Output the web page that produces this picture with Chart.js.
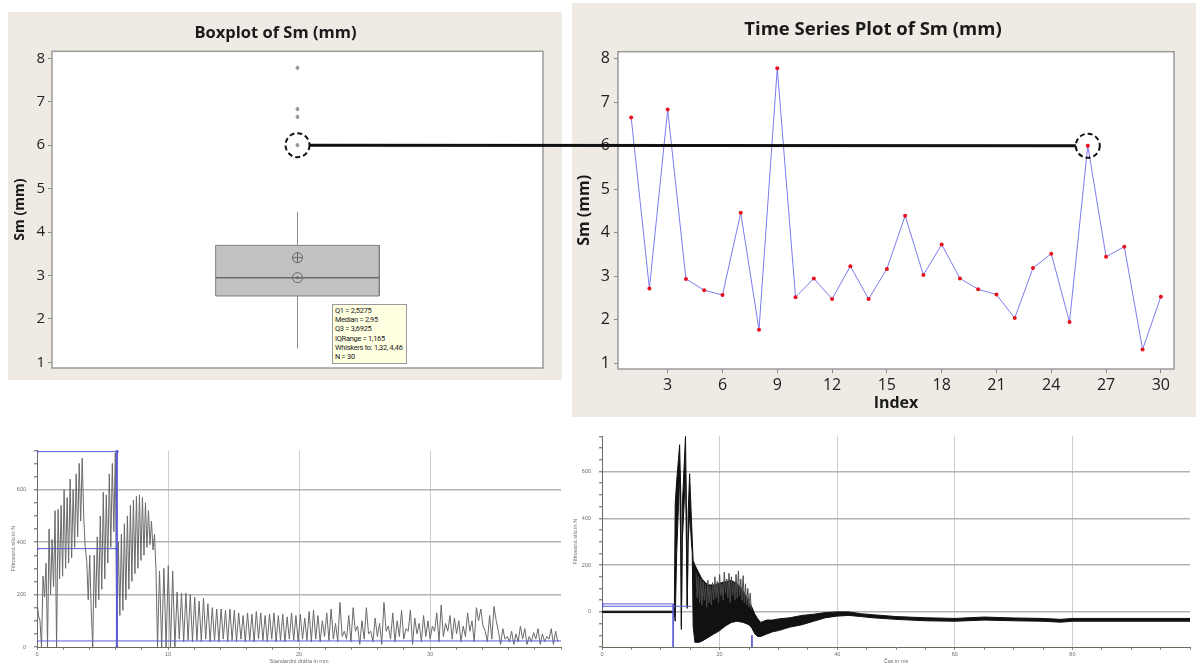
<!DOCTYPE html>
<html lang="cs">
<head>
<meta charset="utf-8">
<title>Sm (mm)</title>
<script src="https://cdn.jsdelivr.net/npm/chart.js@4.4.1/dist/chart.umd.min.js"></script>
<style>
  html, body { margin: 0; padding: 0; background: #fff; }
  body { width: 1196px; height: 667px; position: relative; overflow: hidden; font-family: 'Open Sans', sans-serif; }
  canvas { display: block; }
  .panel { position: absolute; background: #efebe4; }
  #box-panel { left: 8px; top: 12px; width: 554px; height: 368px; }
  #ts-panel { left: 572px; top: 3px; width: 624px; height: 414px; }
  .plot { position: absolute; top: 425px; height: 242px; filter: blur(0.45px); }
  #travel-plot { left: 0; width: 570px; }
  #time-plot { left: 572px; width: 624px; }
  #stats {
    position: absolute; left: 332px; top: 304px; width: 71px; height: 57px;
    background: #ffffe1; border: 1px solid #9a9a9a; padding: 1px 0 0 2px;
    font: 7.4px/9.2px Roboto, 'Liberation Sans', sans-serif; letter-spacing: -0.25px;
    color: #222; white-space: nowrap; overflow: hidden;
  }
  #overlay { position: absolute; left: 0; top: 0; pointer-events: none; }
</style>
</head>
<body>
<div class="panel" id="box-panel"><canvas id="box-chart" width="554" height="368"></canvas></div>
<div class="panel" id="ts-panel"><canvas id="ts-chart" width="624" height="414"></canvas></div>
<div id="stats"></div>
<div class="plot" id="travel-plot"><canvas id="travel-chart" width="570" height="242"></canvas></div>
<div class="plot" id="time-plot"><canvas id="time-chart" width="624" height="242"></canvas></div>
<canvas id="overlay" width="1196" height="667"></canvas>

<script>
// ---- Sm (mm), 30 measurements ----
const INDEX = [1, 2, 3, 4, 5, 6, 7, 8, 9, 10, 11, 12, 13, 14, 15,
               16, 17, 18, 19, 20, 21, 22, 23, 24, 25, 26, 27, 28, 29, 30];
const SM_VALUES = [6.65, 2.72, 6.83, 2.94, 2.68, 2.57, 4.46, 1.77, 7.78, 2.52,
                   2.95, 2.48, 3.23, 2.48, 3.17, 4.39, 3.03, 3.73, 2.95, 2.70,
                   2.58, 2.04, 3.19, 3.52, 1.95, 6.00, 3.45, 3.68, 1.32, 2.53];
const INDEX_TICKS = [3, 6, 9, 12, 15, 18, 21, 24, 27, 30];
const SM_TICKS = [1, 2, 3, 4, 5, 6, 7, 8];

// boxplot summary
const Q1 = 2.5275;
const MEDIAN = 2.95;
const Q3 = 3.6925;
const WHISKERS = [1.32, 4.46];
const OUTLIERS = [6.00, 6.65, 6.83, 7.78];
const HIGHLIGHT_INDEX = 26;

// ---- force vs. travel (mm / N) ----
// first part sampled every 0.115 mm, starting at 0
const DRAHA_A_KROK = 0.115;
const SILA_A = [175, 120, 100, 0, 270, 190, 320, 0, 450, 200,
                410, 230, 520, 0, 525, 260, 540, 270, 600, 300,
                570, 320, 640, 340, 600, 380, 660, 420, 700, 480,
                720, 500, 380, 330, 180, 350, 140, 0, 350, 150,
                420, 180, 500, 220, 590, 260, 580, 320, 660, 380,
                700, 440, 740, 0, 400, 120, 430, 140, 470, 180,
                500, 220, 540, 250, 560, 280, 575, 300, 580, 330,
                570, 350, 550, 380, 520, 390, 480, 370, 430, 290, 0];
// second part: one peak and one trough per tooth
const DRAHA_B_START = 9.35;
const DRAHA_B_KROK = 0.168;
const SPICKY_B = [290, 300, 310, 290,
                  210, 205, 205, 200,
                  190, 175, 185,
                  165, 150, 145, 145, 140, 145, 140, 130, 120,
                  130, 125, 135, 130, 120, 125, 130, 120, 125, 115, 130, 120, 125, 110, 135,
                  140, 120, 100, 130, 145, 90,
                  170, 60, 120, 150, 80, 100, 150, 60, 110, 90, 170, 80,
                  130, 100, 140, 70, 140, 110, 90, 120, 100, 80, 130,
                  160, 90, 120, 110, 100, 80, 130, 100,
                  150, 145, 60, 120, 155,
                  60, 70, 40, 60, 50, 80, 70, 40, 55, 70, 50, 40, 70, 60];
const DOLY_B = [0, 0, 0, 0,
                30, 20, 25, 20,
                25, 20, 30,
                20, 25, 20, 30, 20, 25, 20, 30, 20,
                25, 20, 30, 25, 20, 30, 20, 25, 20, 30, 25, 20, 30, 25, 20,
                30, 20, 40, 25, 30, 20,
                40, 30, 20, 60, 10, 30, 50, 20, 40, 10, 60, 30,
                20, 40, 30, 60, 10, 50, 20, 40, 30, 60, 20,
                40, 60, 30, 50, 20, 40, 60, 20,
                100, 80, 20, 30, 100,
                10, 30, 20, 10, 20, 30, 10, 20, 30, 10, 20, 30, 10, 20];
// evaluation markers
const DRAHA_MEZ = 6.1;
const SILA_MAX = 745;
const SILA_STRED = 375;
const SILA_PRAH = 23;

// ---- force vs. time (ms / N), envelope of the oscillation ----
const CAS_OBALKA = [0, 12.3, 12.45, 12.7, 13.0, 13.2, 13.4, 13.5, 13.65, 14.0,
                    14.2, 14.4, 14.5, 14.65, 14.9, 15.2, 15.35, 15.5, 15.8, 16.5,
                    17, 18, 19, 20, 21, 22, 23, 24, 25, 25.5,
                    26, 26.5, 27, 28, 29, 30, 32, 34, 36, 38,
                    40, 42, 44, 46, 50, 55, 60, 65, 70, 75,
                    78, 80, 90, 100];
const SILA_HORNI = [3, 3, 460, 560, 650, 714, 500, -60, 450, 640,
                    750, 350, 25, 420, 590, 400, 310, 220, 200, 165,
                    140, 115, 115, 122, 130, 134, 120, 90, 40, 20,
                    -10, -30, -45, -35, -35, -30, -25, -15, -10, -3,
                    0, 0, -8, -12, -20, -25, -28, -22, -26, -28,
                    -32, -28, -28, -28];
const SILA_DOLNI = [-3, -3, -40, 250, 450, 600, 250, -75, 300, 480,
                    600, 200, 15, 300, 420, 300, 250, -60, -130, -130,
                    -125, -110, -95, -80, -60, -45, -40, -45, -55, -70,
                    -95, -105, -105, -95, -85, -80, -65, -55, -40, -25,
                    -18, -15, -20, -25, -32, -38, -40, -35, -38, -40,
                    -44, -40, -40, -40];
// loose spikes above the dense band, every 0.2 ms from 16 ms
const ZUBY_START = 16;
const ZUBY_KROK = 0.2;
const ZUBY = [165, 60, 150, 40, 140, 30, 130, 50, 120, 20, 135, 40,
              110, 30, 125, 50, 150, 60, 130, 40, 160, 70, 120, 50,
              170, 80, 140, 60, 165, 40, 150, 70, 130, 50, 160, 60,
              175, 70, 140, 50, 155, 40, 120, 30, 100, 20, 80, 10];
const CAS_START = 12.1;
const CAS_KONEC = 25.5;
const SILA_HLADINY = [34, 24];

const FONT = "'Open Sans', 'Noto Sans', sans-serif";
const SMALL = "'Liberation Sans', Arial, sans-serif";
const BLUE = '#5b5bd6';

// white plot area with a grey frame
const plotFrame = {
  id: 'plotFrame',
  beforeDraw(chart) {
    const { ctx, chartArea: a } = chart;
    ctx.save();
    ctx.fillStyle = '#ffffff';
    ctx.fillRect(a.left, a.top, a.width, a.height);
    ctx.restore();
  },
  afterDraw(chart) {
    const { ctx, chartArea: a } = chart;
    ctx.save();
    ctx.strokeStyle = '#9b9b9b';
    ctx.lineWidth = 1.5;
    ctx.strokeRect(a.left, a.top, a.width, a.height);
    ctx.restore();
  }
};

const fmt = v => String(v).replace('.', ',');
const mean = SM_VALUES.reduce((s, v) => s + v, 0) / SM_VALUES.length;

document.getElementById('stats').innerHTML = [
  `Q1 = ${fmt(Q1)}`,
  `Median = ${fmt(MEDIAN)}`,
  `Q3 = ${fmt(Q3)}`,
  `IQRange = ${fmt((Q3 - Q1).toFixed(3))}`,
  `Whiskers to: ${fmt(WHISKERS[0])}, ${fmt(WHISKERS[1])}`,
  `N = ${SM_VALUES.length}`
].join('<br>');

function point(x, y) { return { x: x, y: y }; }

// ---------- Boxplot of Sm (mm) ----------
const BOX_X = 0.5;
const BOX_HALF = 0.1667;
const boxL = BOX_X - BOX_HALF;
const boxR = BOX_X + BOX_HALF;
const marker = { showLine: false, borderColor: '#666', borderWidth: 1, backgroundColor: 'rgba(0,0,0,0)' };

const boxChart = new Chart(document.getElementById('box-chart'), {
  type: 'line',
  data: {
    datasets: [
      Object.assign({ data: OUTLIERS.map(v => point(BOX_X, v)), pointStyle: 'star', pointRadius: 2.1 }, marker, { borderColor: '#8a8a8a' }),
      Object.assign({ data: [point(BOX_X, mean)], pointStyle: 'circle', pointRadius: 5 }, marker),
      Object.assign({ data: [point(BOX_X, mean)], pointStyle: 'cross', pointRadius: 5 }, marker),
      Object.assign({ data: [point(BOX_X, MEDIAN)], pointStyle: 'circle', pointRadius: 5 }, marker),
      Object.assign({ data: [point(BOX_X, MEDIAN)], pointStyle: 'circle', pointRadius: 1 }, marker, { backgroundColor: '#666' }),
      // median line
      { data: [point(boxL, MEDIAN), point(boxR, MEDIAN)], borderColor: '#6a6a6a', borderWidth: 1.5, pointRadius: 0 },
      // box outline
      { data: [point(boxL, Q1), point(boxL, Q3), point(boxR, Q3), point(boxR, Q1), point(boxL, Q1)],
        borderColor: '#7e7e7e', borderWidth: 1, pointRadius: 0 },
      // box fill between Q3 and Q1
      { data: [point(boxL, Q3), point(boxR, Q3)], fill: '+1', backgroundColor: '#c2c2c2', borderWidth: 0, pointRadius: 0 },
      { data: [point(boxL, Q1), point(boxR, Q1)], borderWidth: 0, pointRadius: 0 },
      // whiskers
      { data: [point(BOX_X, Q3), point(BOX_X, WHISKERS[1])], borderColor: '#8c8c8c', borderWidth: 1, pointRadius: 0 },
      { data: [point(BOX_X, WHISKERS[0]), point(BOX_X, Q1)], borderColor: '#8c8c8c', borderWidth: 1, pointRadius: 0 }
    ]
  },
  options: {
    responsive: false,
    animation: false,
    events: [],
    layout: { padding: { top: 0, right: 19, bottom: 11, left: 0 } },
    plugins: {
      legend: { display: false },
      tooltip: { enabled: false },
      title: {
        display: true, text: 'Boxplot of Sm (mm)', color: '#1a1a1a',
        font: { family: FONT, size: 16.5, weight: 'bold' }, padding: { top: 11, bottom: 8.5 }
      }
    },
    scales: {
      x: { type: 'linear', min: 0, max: 1, display: false },
      y: {
        type: 'linear', min: 0.87, max: 8.16,
        afterBuildTicks: s => { s.ticks = SM_TICKS.map(v => ({ value: v })); },
        afterFit: s => { s.width = 44; },
        grid: { drawOnChartArea: false, tickLength: 4, color: '#8a8a8a' },
        border: { display: false },
        ticks: { padding: 3, color: '#222', font: { family: FONT, size: 15 } },
        title: {
          display: true, text: 'Sm (mm)', color: '#1a1a1a',
          font: { family: FONT, size: 14, weight: 'bold' }, padding: { top: 3.6, bottom: 0 }
        }
      }
    }
  },
  plugins: [plotFrame]
});

// ---------- Time Series Plot of Sm (mm) ----------
const tsChart = new Chart(document.getElementById('ts-chart'), {
  type: 'line',
  data: {
    datasets: [{
      data: INDEX.map((x, i) => point(x, SM_VALUES[i])),
      borderColor: '#7b7bf0',
      borderWidth: 1,
      pointRadius: 2,
      pointBackgroundColor: '#e8101c',
      pointBorderWidth: 0
    }]
  },
  options: {
    responsive: false,
    animation: false,
    events: [],
    layout: { padding: { top: 0, right: 22, bottom: 4, left: 0 } },
    plugins: {
      legend: { display: false },
      tooltip: { enabled: false },
      title: {
        display: true, text: 'Time Series Plot of Sm (mm)', color: '#1a1a1a',
        font: { family: FONT, size: 18.5, weight: 'bold' }, padding: { top: 16, bottom: 10.5 }
      }
    },
    scales: {
      x: {
        type: 'linear', min: 0.28, max: 30.72,
        afterBuildTicks: s => { s.ticks = INDEX_TICKS.map(v => ({ value: v })); },
        afterFit: s => { s.height = 44; },
        grid: { drawOnChartArea: false, tickLength: 4, color: '#8a8a8a' },
        border: { display: false },
        ticks: { padding: 2.4, color: '#222', maxRotation: 0, font: { family: FONT, size: 16 } },
        title: {
          display: true, text: 'Index', color: '#1a1a1a',
          font: { family: FONT, size: 16, weight: 'bold' }, padding: { top: 0, bottom: 0.4 }
        }
      },
      y: {
        type: 'linear', min: 0.87, max: 8.16,
        afterBuildTicks: s => { s.ticks = SM_TICKS.map(v => ({ value: v })); },
        afterFit: s => { s.width = 46; },
        grid: { drawOnChartArea: false, tickLength: 4, color: '#8a8a8a' },
        border: { display: false },
        ticks: { padding: 4, color: '#222', font: { family: FONT, size: 16 } },
        title: {
          display: true, text: 'Sm (mm)', color: '#1a1a1a',
          font: { family: FONT, size: 16, weight: 'bold' }, padding: { top: 2.4, bottom: 0 }
        }
      }
    }
  },
  plugins: [plotFrame]
});

// ---------- shared axis setup for the two measurement plots ----------
function measureAxes(cfg) {
  const labelX = v => v % cfg.xLabelStep === 0 && v < cfg.xMax;
  const majorY = v => v % 200 === 0;
  return {
    x: {
      type: 'linear', min: cfg.xMin, max: cfg.xMax,
      afterFit: s => { s.height = 20; },
      ticks: {
        stepSize: cfg.xStep, autoSkip: false, maxRotation: 0, padding: 1, color: '#6f6f6f',
        font: { family: SMALL, size: 5.5 }, callback: v => (labelX(v) ? v : '')
      },
      grid: {
        color: c => (c.tick && labelX(c.tick.value) && c.tick.value > 0 ? '#cdcdcd' : 'rgba(0,0,0,0)'),
        tickColor: '#8a8a8a', tickLength: 3
      },
      border: { color: '#6b6b5e', width: 1 },
      title: {
        display: true, text: cfg.xTitle, color: '#6f6f6f',
        font: { family: SMALL, size: 5.5 }, padding: { top: 0, bottom: 2.5 }
      }
    },
    y: {
      type: 'linear', min: cfg.yMin, max: cfg.yMax,
      afterFit: s => { s.width = cfg.yWidth; },
      ticks: {
        stepSize: 50, autoSkip: false, padding: 8, color: '#6f6f6f',
        font: { family: SMALL, size: 5.5 }, callback: v => (majorY(v) ? v : '')
      },
      grid: {
        color: c => (c.tick && majorY(c.tick.value) && (cfg.zeroGrid || c.tick.value > 0) ? '#b3b3b3' : 'rgba(0,0,0,0)'),
        lineWidth: 1.4, tickColor: '#8a8a8a', tickLength: 3
      },
      border: { color: '#6b6b5e', width: 1 },
      title: {
        display: true, text: 'Filtrovaná síla in N', color: '#6f6f6f',
        font: { family: SMALL, size: 5.5 }, padding: { top: cfg.yTitlePad, bottom: 0 }
      }
    }
  };
}

const quiet = { legend: { display: false }, tooltip: { enabled: false } };

// ---------- force over standard travel ----------
const travelSignal = [];
SILA_A.forEach((v, i) => travelSignal.push(point(i * DRAHA_A_KROK, v)));
SPICKY_B.forEach((v, i) => {
  travelSignal.push(point(DRAHA_B_START + 2 * i * DRAHA_B_KROK, v));
  travelSignal.push(point(DRAHA_B_START + (2 * i + 1) * DRAHA_B_KROK, DOLY_B[i]));
});

const blueLine = (data, width, radius) => ({
  data: data, borderColor: BLUE, borderWidth: width, pointRadius: radius,
  pointBackgroundColor: BLUE, pointBorderWidth: 0
});

new Chart(document.getElementById('travel-chart'), {
  type: 'line',
  data: {
    datasets: [
      blueLine([point(0, SILA_MAX), point(DRAHA_MEZ, SILA_MAX)], 1, 1.6),
      blueLine([point(DRAHA_MEZ, SILA_MAX), point(DRAHA_MEZ, 0)], 2, 1.6),
      blueLine([point(0, SILA_STRED), point(DRAHA_MEZ, SILA_STRED)], 1, 1.6),
      blueLine([point(0, SILA_PRAH), point(40, SILA_PRAH)], 1, 0),
      { data: travelSignal, borderColor: '#6a6a6a', borderWidth: 1, pointRadius: 0 }
    ]
  },
  options: {
    responsive: false,
    animation: false,
    events: [],
    layout: { padding: { top: 25.3, right: 9, bottom: 0, left: 0 } },
    plugins: quiet,
    scales: measureAxes({
      xMin: 0, xMax: 40, xStep: 2, xLabelStep: 10, xTitle: 'Standardní dráha in mm',
      yMin: 0, yMax: 750, yWidth: 37, yTitlePad: 9.7, zeroGrid: false
    })
  }
});

// ---------- force over time ----------
// the dense oscillation is drawn as one closed outline: upper edge forward, lower edge back
const bandOutline = CAS_OBALKA.map((t, i) => point(t, SILA_HORNI[i]))
  .concat(CAS_OBALKA.map((t, i) => point(t, SILA_DOLNI[i])).reverse());

new Chart(document.getElementById('time-chart'), {
  type: 'line',
  data: {
    datasets: [
      blueLine([point(0, SILA_HLADINY[0]), point(CAS_START, SILA_HLADINY[0]), point(CAS_START, -150)], 1, 0),
      blueLine([point(0, SILA_HLADINY[1]), point(15.2, SILA_HLADINY[1])], 1, 0),
      blueLine([point(0, SILA_HLADINY[0]), point(0, SILA_HLADINY[1])], 0, 1.6),
      blueLine([point(CAS_KONEC, -100), point(CAS_KONEC, -150)], 1, 0),
      { data: ZUBY.map((v, i) => point(ZUBY_START + i * ZUBY_KROK, v)), borderColor: '#4a4a4a', borderWidth: 1, pointRadius: 0 },
      { data: bandOutline, borderColor: '#111', borderWidth: 1, pointRadius: 0, fill: 'shape', backgroundColor: '#111' }
    ]
  },
  options: {
    responsive: false,
    animation: false,
    events: [],
    layout: { padding: { top: 1, right: 6, bottom: 0, left: 0 } },
    plugins: quiet,
    scales: measureAxes({
      xMin: 0, xMax: 100, xStep: 5, xLabelStep: 20, xTitle: 'Čas in ms',
      yMin: -150, yMax: 750, yWidth: 30, yTitlePad: 0, zeroGrid: true
    })
  }
});

// ---------- link the highlighted value between the two Sm charts ----------
function drawLink() {
  const ov = document.getElementById('overlay');
  const ctx = ov.getContext('2d');
  const boxRect = boxChart.canvas.getBoundingClientRect();
  const tsRect = tsChart.canvas.getBoundingClientRect();
  const value = SM_VALUES[HIGHLIGHT_INDEX - 1];

  const ax = boxRect.left + boxChart.scales.x.getPixelForValue(BOX_X);
  const ay = boxRect.top + boxChart.scales.y.getPixelForValue(value);
  const bx = tsRect.left + tsChart.scales.x.getPixelForValue(HIGHLIGHT_INDEX);
  const by = tsRect.top + tsChart.scales.y.getPixelForValue(value);
  const r = 12;

  ctx.strokeStyle = '#111';
  ctx.lineWidth = 3;
  ctx.beginPath();
  ctx.moveTo(ax + r, ay);
  ctx.lineTo(bx - r, by);
  ctx.stroke();

  ctx.lineWidth = 2;
  ctx.setLineDash([5, 3]);
  [[ax, ay], [bx, by]].forEach(([x, y]) => {
    ctx.beginPath();
    ctx.arc(x, y, r, 0, Math.PI * 2);
    ctx.stroke();
  });
}
drawLink();
</script>
</body>
</html>
